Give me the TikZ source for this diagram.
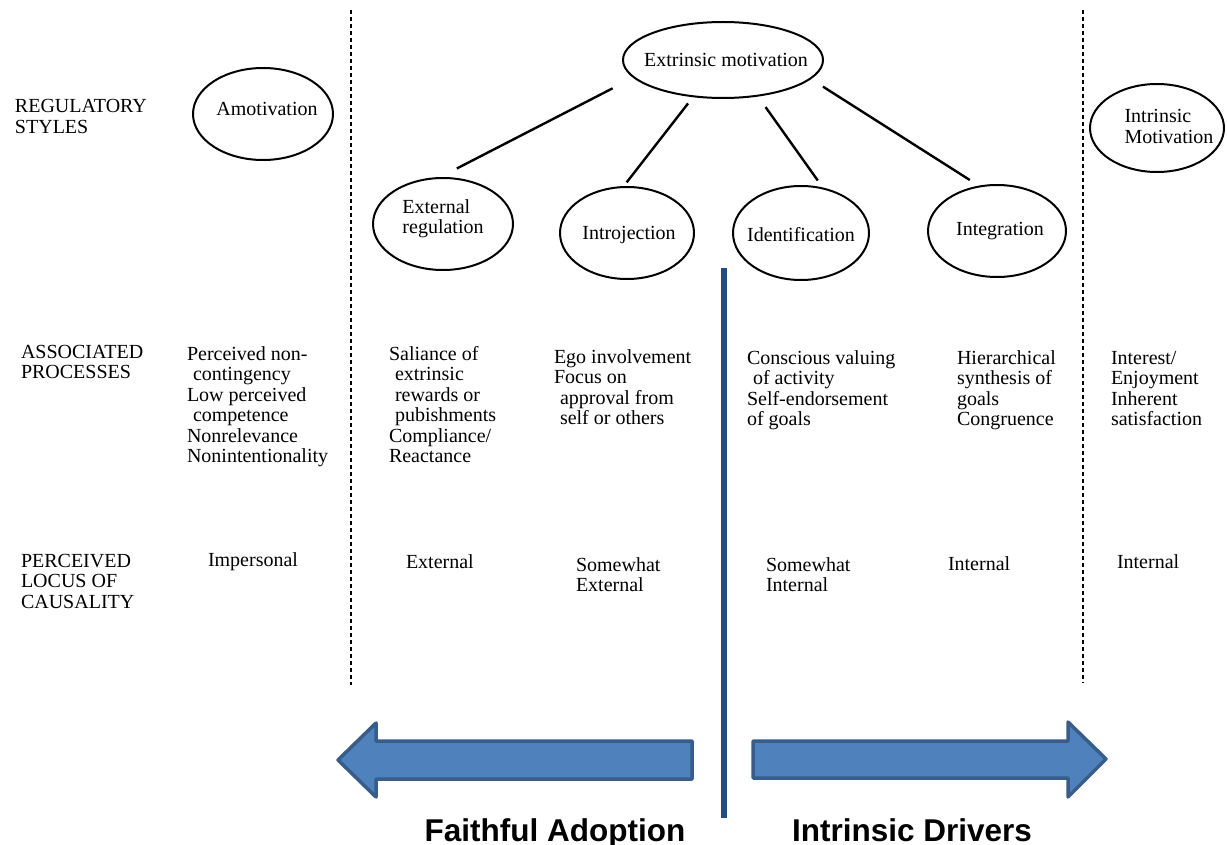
\documentclass[tikz,border=0pt]{standalone}
\usepackage{fontspec}
\setmainfont{Liberation Serif}
\newfontfamily\capfam{Liberation Sans}
\usetikzlibrary{shapes.geometric}

\definecolor{arrowfill}{RGB}{79,129,189}
\definecolor{arrowdraw}{RGB}{56,93,138}
\definecolor{divblue}{RGB}{35,76,128}

\newcommand\tcol[1]{\begin{tabular}[t]{@{}l@{}}#1\end{tabular}}
% \inbox{x shift}{raise}{content}: zero-size text placed inside an oval
\newcommand\inbox[3]{\makebox[0pt]{\smash{\raisebox{#2}{\makebox[0pt]{\hspace*{#1}\hspace*{#1}#3}}}}}
\newcommand\ind{\hspace*{6pt}}

\begin{document}
\begin{tikzpicture}[x=1pt,y=-1pt,
  every node/.style={font=\fontsize{20}{20.5}\selectfont, inner sep=0pt, outer sep=0pt},
  oval/.style={ellipse, draw, line width=2pt},
  link/.style={line width=2.4pt},
  divider/.style={line width=1.7pt, dash pattern=on 4pt off 3pt},
  txt/.style={anchor=base west},
  bigarrow/.style={fill=arrowfill, draw=arrowdraw, line width=3.5pt, line join=round},
  caption/.style={font=\capfam\bfseries\fontsize{31.5}{36}\selectfont, anchor=base}
]
\useasboundingbox (0,0) rectangle (1227,845);
\fill[white] (0,0) rectangle (1227,845);

% dividers
\draw[divider] (351,10) -- (351,685);
\draw[divider] (1083,10) -- (1083,683);

% ovals
\node[oval, minimum width=140, minimum height=92] (amot) at (263,114) {\inbox{4pt}{-1.5pt}{Amotivation}};
\node[oval, minimum width=200, minimum height=76] (ext) at (723,60) {\inbox{3pt}{-6.7pt}{Extrinsic motivation}};
\node[oval, minimum width=140, minimum height=92] (extreg) at (443,224) {\inbox{0pt}{10.5pt}{\tcol{External\\regulation}}};
\node[oval, minimum width=134, minimum height=92] (introj) at (627,233) {\inbox{2pt}{-7pt}{Introjection}};
\node[oval, minimum width=136, minimum height=94] (ident) at (801,233) {\inbox{0pt}{-9pt}{Identification}};
\node[oval, minimum width=138, minimum height=92] (integ) at (997,231) {\inbox{3pt}{-4.5pt}{Integration}};
\node[oval, minimum width=134, minimum height=88] (intr) at (1157,128) {\inbox{12pt}{5.4pt}{\tcol{Intrinsic\\Motivation}}};

% connectors
\draw[link, shorten <=24pt, shorten >=21pt] (ext.191) -- (extreg.96);
\draw[link, shorten <=9pt, shorten >=6pt] (ext.231) -- (introj.95);
\draw[link, shorten <=14pt, shorten >=10pt] (ext.314) -- (ident.63);
\draw[link, shorten <=15pt, shorten >=12pt] (ext.348) -- (integ.111);

% row labels
\node[txt] (lreg) at (15,113) {\tcol{REGULATORY\\STYLES}};
\node[txt] (lproc) at (21,358) {\tcol{ASSOCIATED\\PROCESSES}};
\node[txt] (lloc) at (21,567) {\tcol{PERCEIVED\\LOCUS OF\\CAUSALITY}};

% associated processes
\node[txt] (pamot) at (187,360) {\tcol{Perceived non-\\\ind contingency\\Low perceived\\\ind competence\\Nonrelevance\\Nonintentionality}};
\node[txt] (pext) at (389,360) {\tcol{Saliance of\\\ind extrinsic\\\ind rewards or\\\ind pubishments\\Compliance/\\Reactance}};
\node[txt] (pintro) at (554,363) {\tcol{Ego involvement\\Focus on\\\ind approval from\\\ind self or others}};
\node[txt] (pident) at (747,364) {\tcol{Conscious valuing\\\ind of activity\\Self-endorsement\\of goals}};
\node[txt] (pinteg) at (957,364) {\tcol{Hierarchical\\synthesis of\\goals\\Congruence}};
\node[txt] (pintr) at (1111,364) {\tcol{Interest/\\Enjoyment\\Inherent\\satisfaction}};

% perceived locus of causality
\node[txt] (camot) at (208,566) {Impersonal};
\node[txt] (cext) at (406,568) {External};
\node[txt] (cintro) at (576,571) {\tcol{Somewhat\\External}};
\node[txt] (cident) at (766,571) {\tcol{Somewhat\\Internal}};
\node[txt] (cinteg) at (948,570) {Internal};
\node[txt] (cintr) at (1117,568) {Internal};

% central blue divider
\coordinate (btop) at (724,268);
\coordinate (bbot) at (724,818);
\draw[divblue, line width=5.5pt] (btop) -- (bbot);

% big arrows
\draw[bigarrow] (338,760) -- (376,723) -- (376,741) -- (692,741) -- (692,779) -- (376,779) -- (376,797) -- cycle;
\draw[bigarrow] (753,741) -- (1068,741) -- (1068,722) -- (1106,759) -- (1068,797) -- (1068,778) -- (753,778) -- cycle;

% captions (cut off by the lower edge, as in the reference)
\node[caption] (fa) at (555,841) {Faithful Adoption};
\node[caption] (idr) at (912,841) {Intrinsic Drivers};
\end{tikzpicture}
\end{document}
